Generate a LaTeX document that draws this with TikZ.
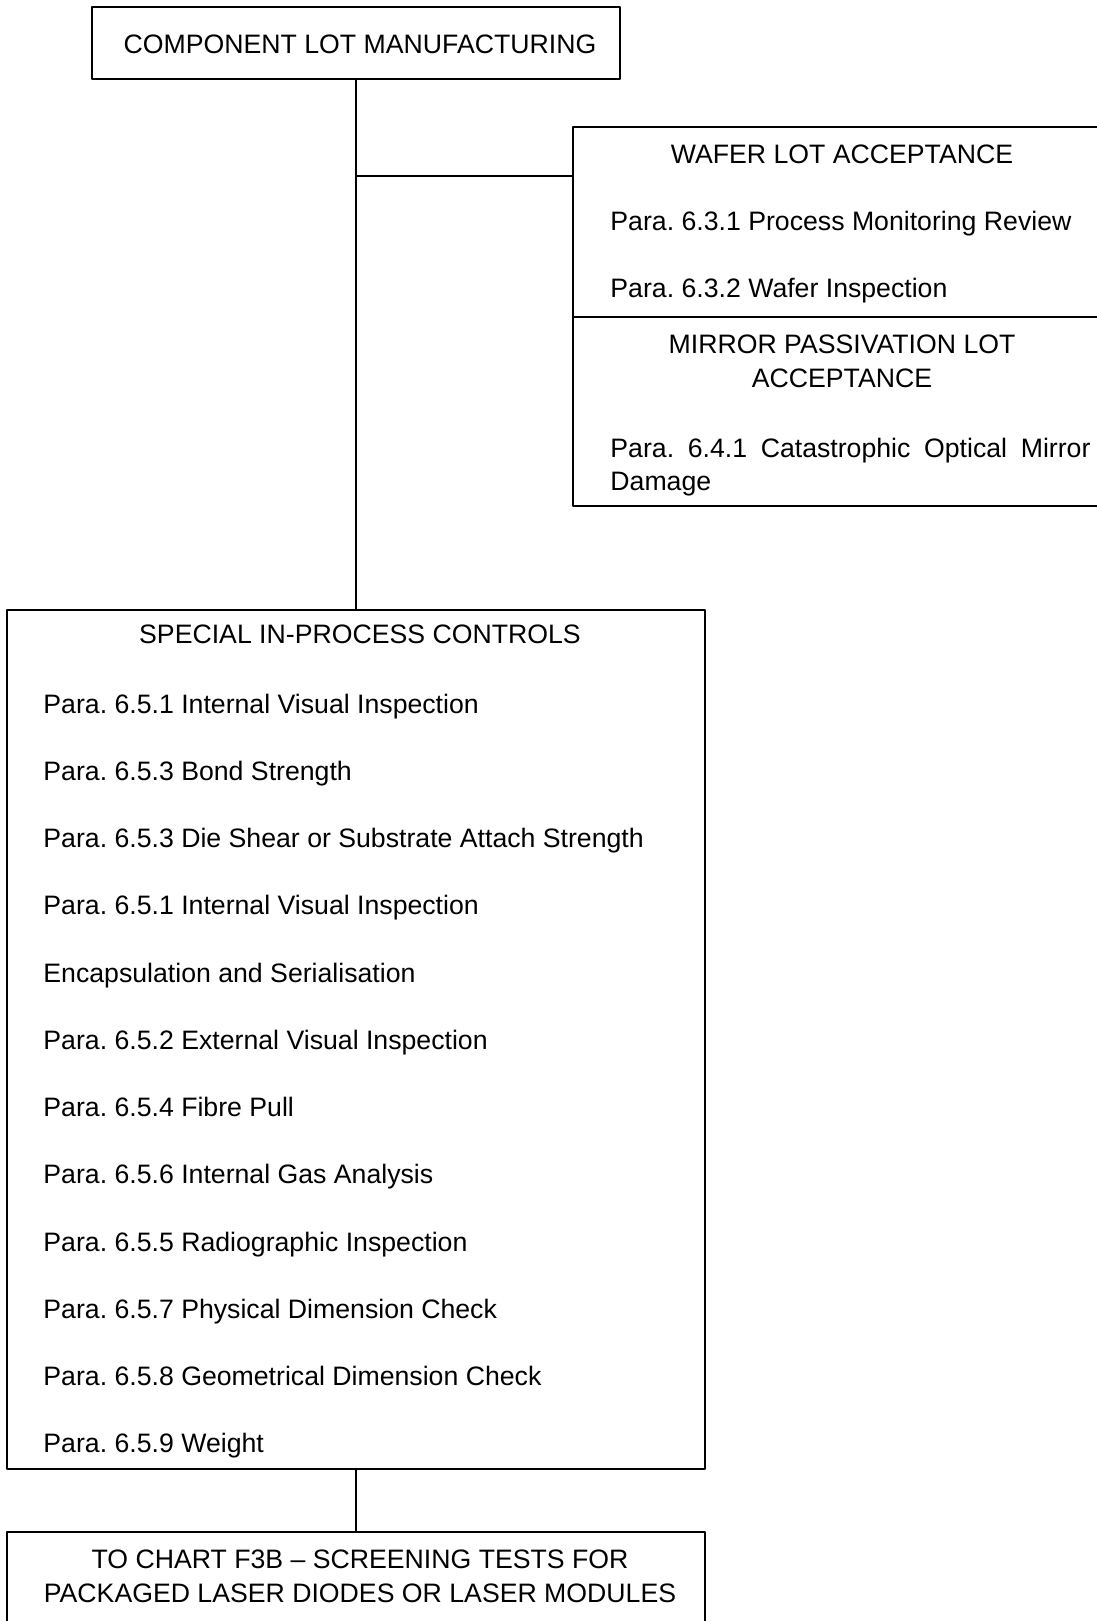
\documentclass[tikz,border=0pt]{standalone}
\usepackage{fontspec}
\setmainfont{Liberation Sans}
\frenchspacing
\usetikzlibrary{calc}

\begin{document}
\begin{tikzpicture}[x=0.45pt,y=-0.45pt,line cap=round,line join=round,
  box/.style={draw,line width=0.8pt,inner sep=0pt,outer sep=0pt},
  link/.style={line width=0.6pt},
  txt/.style={inner sep=0pt,anchor=base west,font=\fontsize{12}{14}\selectfont},
  head/.style={inner sep=0pt,anchor=base,font=\fontsize{12}{14}\selectfont}]
  \clip (0,0) rectangle (1097,1621);
  % boxes
  \node[box,minimum width=237.6pt,minimum height=32.4pt] (mfg) at (356,43) {};
  \node[box,minimum width=249.3pt,minimum height=85.5pt] (wafer) at (850,222) {};
  \node[box,minimum width=249.3pt,minimum height=85.05pt] (mirror) at (850,411.5) {};
  \node[box,minimum width=314.1pt,minimum height=386.55pt] (spc) at (356,1039.5) {};
  \node[box,minimum width=314.1pt,minimum height=57.6pt] (chart) at (356,1596) {};
  % connectors
  \path (mfg.south) ++(0,97) coordinate (split);
  \draw[link] (mfg.south) -- (spc.north);
  \draw[link] (split) -- (split -| wafer.west);
  \draw[link] (spc.south) -- (chart.north);
  % texts
  \node[head] (mfgT) at (360,53) {COMPONENT LOT MANUFACTURING};
  \node[head] (waferT) at (842,163) {WAFER LOT ACCEPTANCE};
  \node[txt] (w1) at (610,230) {Para. 6.3.1 Process Monitoring Review};
  \node[txt] (w2) at (610,297) {Para. 6.3.2 Wafer Inspection};
  \node[head] (mirT1) at (842,353) {MIRROR PASSIVATION LOT};
  \node[head] (mirT2) at (842,387) {ACCEPTANCE};
  \node[txt] (m1) at (610,457) {\makebox[216pt][s]{Para. 6.4.1 Catastrophic Optical Mirror}};
  \node[txt] (m2) at (610,490) {Damage};
  \node[head] (spcT) at (360,643) {SPECIAL IN-PROCESS CONTROLS};
  \foreach \t [count=\i from 0] in {%
    {Para. 6.5.1 Internal Visual Inspection},
    {Para. 6.5.3 Bond Strength},
    {Para. 6.5.3 Die Shear or Substrate Attach Strength},
    {Para. 6.5.1 Internal Visual Inspection},
    {Encapsulation and Serialisation},
    {Para. 6.5.2 External Visual Inspection},
    {Para. 6.5.4 Fibre Pull},
    {Para. 6.5.6 Internal Gas Analysis},
    {Para. 6.5.5 Radiographic Inspection},
    {Para. 6.5.7 Physical Dimension Check},
    {Para. 6.5.8 Geometrical Dimension Check},
    {Para. 6.5.9 Weight}}
    \node[txt] (s\i) at (43,713+67.27*\i) {\t};
  \node[head] (chT1) at (360,1568) {TO CHART F3B – SCREENING TESTS FOR};
  \node[head] (chT2) at (360,1602) {PACKAGED LASER DIODES OR LASER MODULES};
\end{tikzpicture}
\end{document}
